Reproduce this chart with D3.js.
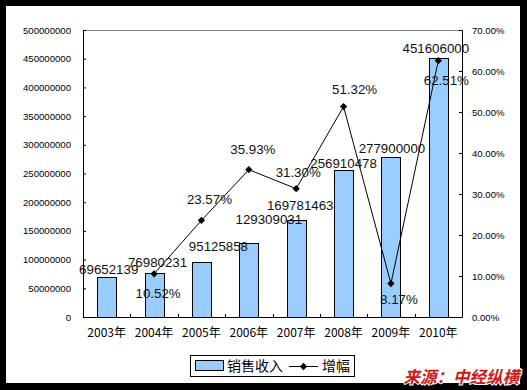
<!DOCTYPE html>
<html>
<head>
<meta charset="utf-8">
<script src="https://cdn.jsdelivr.net/npm/d3@7"></script>
<style>
  body { margin: 0; background: #000; }
  svg { display: block; }
</style>
</head>
<body>
<figure id="chart" style="margin:0"></figure>
<script>
// data
var years = ["2003年", "2004年", "2005年", "2006年", "2007年", "2008年", "2009年", "2010年"];
var sales = [69652139, 76980231, 95125858, 129309031, 169781463, 256910478, 277900000, 451606000];
var growthYears = ["2004年", "2005年", "2006年", "2007年", "2008年", "2009年", "2010年"];
var growth = [0.1052, 0.2357, 0.3593, 0.3130, 0.5132, 0.0817, 0.6251];
var leftTicks = [0, 50000000, 100000000, 150000000, 200000000, 250000000, 300000000, 350000000, 400000000, 450000000, 500000000];
var rightTicks = [0, 0.1, 0.2, 0.3, 0.4, 0.5, 0.6, 0.7];
var legendNames = ["销售收入", "增幅"];

let dimensions = {
    width: 527,
    height: 390,
    margin: { top: 30, right: 65, bottom: 73, left: 83 }
};
dimensions.boundedWidth = dimensions.width - dimensions.margin.left - dimensions.margin.right;
dimensions.boundedHeight = dimensions.height - dimensions.margin.top - dimensions.margin.bottom;

var numFont = "'Liberation Sans', Arial, sans-serif";
var cjkFont = "'Noto Sans CJK SC', sans-serif";

var root = d3.select("figure#chart")
    .append("svg")
    .attr("width", dimensions.width)
    .attr("height", dimensions.height);

// black frame + white sheet
root.append("rect").attr("width", 527).attr("height", 390).attr("fill", "#000");
root.append("rect").attr("x", 6).attr("y", 6).attr("width", 514).attr("height", 377).attr("fill", "#fff");

var svg = root.append("g")
    .attr("transform", `translate(${dimensions.margin.left}, ${dimensions.margin.top})`);

var xScale = d3.scaleBand()
    .domain(years)
    .range([0, dimensions.boundedWidth])
    .paddingInner(0.6)
    .paddingOuter(0.3);

var yScale = d3.scaleLinear()
    .domain([0, 500000000])
    .range([dimensions.boundedHeight, 0]);

var yRight = d3.scaleLinear()
    .domain([0, 0.7])
    .range([dimensions.boundedHeight, 0]);

// top border of plot (gray)
svg.append("line")
    .attr("x1", 0).attr("x2", dimensions.boundedWidth)
    .attr("y1", 0.5).attr("y2", 0.5)
    .attr("stroke", "#808080");

// bars
svg.selectAll("rect.bar")
    .data(sales)
    .enter()
    .append("rect")
    .attr("class", "bar")
    .attr("x", (d, i) => Math.round(xScale(years[i])) + 0.5)
    .attr("y", d => Math.round(yScale(d)) + 0.5)
    .attr("width", Math.round(xScale.bandwidth()))
    .attr("height", d => Math.round(yScale(0)) - Math.round(yScale(d)))
    .attr("fill", "#99ccff")
    .attr("stroke", "#000")
    .attr("stroke-width", 1);

// left axis
var yAxis = svg.append("g")
    .call(d3.axisLeft(yScale).tickValues(leftTicks).tickSize(-3).tickPadding(12).tickFormat(d3.format("d")));
yAxis.select(".domain").attr("stroke", "#000");
yAxis.selectAll("text").attr("font-family", numFont).attr("font-size", 9.6).attr("fill", "#000");

// right axis
var yAxisR = svg.append("g")
    .attr("transform", `translate(${dimensions.boundedWidth}, 0)`)
    .call(d3.axisRight(yRight).tickValues(rightTicks).tickSize(-3).tickPadding(10).tickFormat(d3.format(".2%")));
yAxisR.selectAll("text").attr("font-family", numFont).attr("font-size", 9.6).attr("fill", "#000");

// bottom axis: ticks between categories, pointing inward
var xAxis = svg.append("g")
    .attr("transform", `translate(0, ${dimensions.boundedHeight})`);
xAxis.append("line")
    .attr("x1", 0).attr("x2", dimensions.boundedWidth)
    .attr("y1", 0.5).attr("y2", 0.5)
    .attr("stroke", "#000");
xAxis.selectAll("line.sep")
    .data(years.slice(1))
    .enter()
    .append("line")
    .attr("class", "sep")
    .attr("x1", d => Math.round(xScale(d) - xScale.step() * xScale.paddingInner() / 2) + 0.5)
    .attr("x2", d => Math.round(xScale(d) - xScale.step() * xScale.paddingInner() / 2) + 0.5)
    .attr("y1", 0).attr("y2", -3)
    .attr("stroke", "#000");
xAxis.selectAll("text")
    .data(years)
    .enter()
    .append("text")
    .attr("x", d => xScale(d) + xScale.bandwidth() / 2)
    .attr("y", 20)
    .attr("text-anchor", "middle")
    .attr("font-family", cjkFont)
    .attr("font-size", 12)
    .attr("fill", "#000")
    .text(d => d);

// growth line
var cx = d => xScale(d) + xScale.bandwidth() / 2;
var line = d3.line()
    .x((d, i) => cx(growthYears[i]))
    .y(d => yRight(d));
svg.append("path")
    .datum(growth)
    .attr("d", line)
    .attr("fill", "none")
    .attr("stroke", "#000")
    .attr("stroke-width", 1);
svg.selectAll("path.mark")
    .data(growth)
    .enter()
    .append("path")
    .attr("class", "mark")
    .attr("d", d3.symbol(d3.symbolDiamond2, 34))
    .attr("transform", (d, i) => `translate(${cx(growthYears[i])}, ${yRight(d)})`)
    .attr("fill", "#000");

// data labels (nudged like the hand-placed labels in the original)
var barNudge = [[2, -3], [3.5, -6], [17, -11], [20, -19], [4, -9.5], [0, -2], [1, -4.5], [-2.5, -5]];
svg.selectAll("text.barlabel")
    .data(sales)
    .enter()
    .append("text")
    .attr("x", (d, i) => cx(years[i]) + barNudge[i][0])
    .attr("y", (d, i) => yScale(d) + barNudge[i][1])
    .attr("text-anchor", "middle")
    .attr("font-family", numFont)
    .attr("font-size", 13.3)
    .attr("fill", "#111")
    .text(d => d);

var lineNudge = [[4, 24], [8, -16], [4, -16], [2, -12], [11, -13], [8, 20], [8, 24]];
svg.selectAll("text.linelabel")
    .data(growth)
    .enter()
    .append("text")
    .attr("x", (d, i) => cx(growthYears[i]) + lineNudge[i][0])
    .attr("y", (d, i) => yRight(d) + lineNudge[i][1])
    .attr("text-anchor", "middle")
    .attr("font-family", numFont)
    .attr("font-size", 13.3)
    .attr("fill", "#111")
    .text(d => d3.format(".2%")(d));

// legend
var legend = root.append("g").attr("transform", "translate(190, 355)");
legend.append("rect")
    .attr("x", 0.5).attr("y", 0.5).attr("width", 164).attr("height", 21)
    .attr("fill", "#fff").attr("stroke", "#000");
legend.append("rect")
    .attr("x", 5.5).attr("y", 5.5).attr("width", 28).attr("height", 10)
    .attr("fill", "#99ccff").attr("stroke", "#000");
legend.append("text")
    .attr("x", 37).attr("y", 16)
    .attr("font-family", cjkFont).attr("font-size", 14).attr("fill", "#000")
    .text(legendNames[0]);
legend.append("line")
    .attr("x1", 99).attr("x2", 128).attr("y1", 11.5).attr("y2", 11.5)
    .attr("stroke", "#000");
legend.append("path")
    .attr("d", d3.symbol(d3.symbolDiamond2, 34))
    .attr("transform", "translate(113.5, 11.5)")
    .attr("fill", "#000");
legend.append("text")
    .attr("x", 132).attr("y", 16)
    .attr("font-family", cjkFont).attr("font-size", 14).attr("fill", "#000")
    .text(legendNames[1]);

// source watermark
root.append("text")
    .attr("x", 519).attr("y", 383)
    .attr("text-anchor", "end")
    .attr("font-family", cjkFont)
    .attr("font-size", 16.5)
    .attr("font-weight", "bold")
    .attr("font-style", "italic")
    .attr("fill", "#d01818")
    .attr("stroke", "#fff")
    .attr("stroke-width", 2)
    .attr("paint-order", "stroke")
    .text("来源：中经纵横");
</script>
</body>
</html>
